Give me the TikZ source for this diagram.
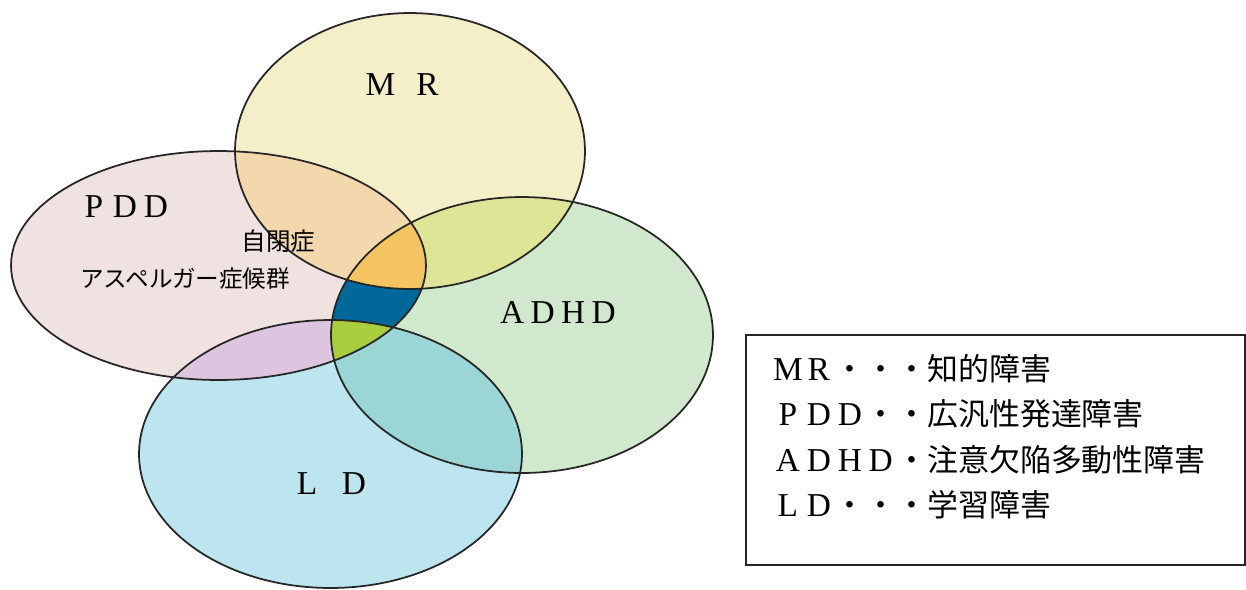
\documentclass[tikz,border=0pt]{standalone}
\usepackage{fontspec}
\setmainfont{Liberation Serif}
\newfontfamily\jp{Noto Sans CJK JP}

\definecolor{mrcol}{HTML}{F4EFC8}
\definecolor{pddcol}{HTML}{F0E2E0}
\definecolor{adhdcol}{HTML}{D0E8CB}
\definecolor{ldcol}{HTML}{BCE5F0}
\definecolor{mrpddcol}{HTML}{F3D8AE}
\definecolor{mradhdcol}{HTML}{DEE596}
\definecolor{pddadhdcol}{HTML}{00699A}
\definecolor{pddldcol}{HTML}{DDC5E0}
\definecolor{adhdldcol}{HTML}{9AD6D6}
\definecolor{mrpddadhdcol}{HTML}{F4C462}
\definecolor{pddadhdldcol}{HTML}{A8CE3E}

% the four sets, in pixel coordinates of the picture
\newcommand\mrset{(410,151) ellipse [x radius=3.5cm, y radius=2.76cm]}
\newcommand\pddset{(218.5,265.5) ellipse [x radius=4.15cm, y radius=2.29cm]}
\newcommand\adhdset{(522,335) ellipse [x radius=3.82cm, y radius=2.76cm]}
\newcommand\ldset{(330.5,454) ellipse [x radius=3.83cm, y radius=2.68cm]}

\newcommand\cell[1]{\makebox[0.62cm]{#1}}
\newcommand\lat[1]{\makebox[0.62cm]{\fontsize{19pt}{20pt}\selectfont #1}}
\newcommand\dlat[1]{\makebox[0.61cm]{\fontsize{19pt}{20pt}\selectfont #1}}

\tikzset{
	setlabel/.style={inner sep=0pt, anchor=base},
	jplabel/.style={inner sep=0pt, font=\jp\fontsize{13.4pt}{16pt}\selectfont},
	legendrow/.style={inner sep=0pt, anchor=base west, font=\fontsize{17.6pt}{20pt}\selectfont}
}

\begin{document}
\begin{tikzpicture}[x=0.02cm, y=-0.02cm]
	\useasboundingbox (0,0) rectangle (1246,589);
	% plain sets
	\fill [mrcol] \mrset;
	\fill [pddcol] \pddset;
	\fill [adhdcol] \adhdset;
	\fill [ldcol] \ldset;
	% two at a time
	\begin{scope}
	\clip \mrset;
	\fill [mrpddcol] \pddset;
	\fill [mradhdcol] \adhdset;
	\end{scope}
	\begin{scope}
	\clip \pddset;
	\fill [pddadhdcol] \adhdset;
	\fill [pddldcol] \ldset;
	\end{scope}
	\begin{scope}
	\clip \adhdset;
	\fill [adhdldcol] \ldset;
	\end{scope}
	% three at a time
	\begin{scope}
	\clip \mrset;
	\clip \pddset;
	\fill [mrpddadhdcol] \adhdset;
	\end{scope}
	\begin{scope}
	\clip \pddset;
	\clip \adhdset;
	\fill [pddadhdldcol] \ldset;
	\end{scope}
	% outlines
	\draw [line width=1pt, black!85] \mrset \pddset \adhdset \ldset;

	\node (mr) [setlabel] at (404,95) {\lat{M}\hspace{0.32cm}\lat{R}};
	\node (pdd) [setlabel] at (125,217) {\lat{P}\lat{D}\lat{D}};
	\node (adhd) [setlabel] at (558,323) {\dlat{A}\dlat{D}\dlat{H}\dlat{D}};
	\node (ld) [setlabel] at (330.5,494) {\lat{L}\hspace{0.32cm}\lat{D}};
	\node (autism) [jplabel, font=\jp\fontsize{14pt}{16pt}\selectfont] at (278.5,241) {自閉症};
	\node (asperger) [jplabel] at (185,279) {アスペルガー症候群};

	\node (legend) [draw, line width=1pt, black!85, anchor=north west, minimum width=9.98cm, minimum height=4.6cm, inner sep=0pt] at (745,334) {};
	\node (mrdef) [legendrow] at (772,380) {\lat{M}\lat{R}\cell{\jp ・}\cell{\jp ・}\cell{\jp ・}{\jp 知的障害}};
	\node (pdddef) [legendrow] at (772,425.5) {\lat{P}\lat{D}\lat{D}\cell{\jp ・}\cell{\jp ・}{\jp 広汎性発達障害}};
	\node (adhddef) [legendrow] at (772,471) {\lat{A}\lat{D}\lat{H}\lat{D}\cell{\jp ・}{\jp 注意欠陥多動性障害}};
	\node (lddef) [legendrow] at (772,516.5) {\lat{L}\lat{D}\cell{\jp ・}\cell{\jp ・}\cell{\jp ・}{\jp 学習障害}};
\end{tikzpicture}
\end{document}
